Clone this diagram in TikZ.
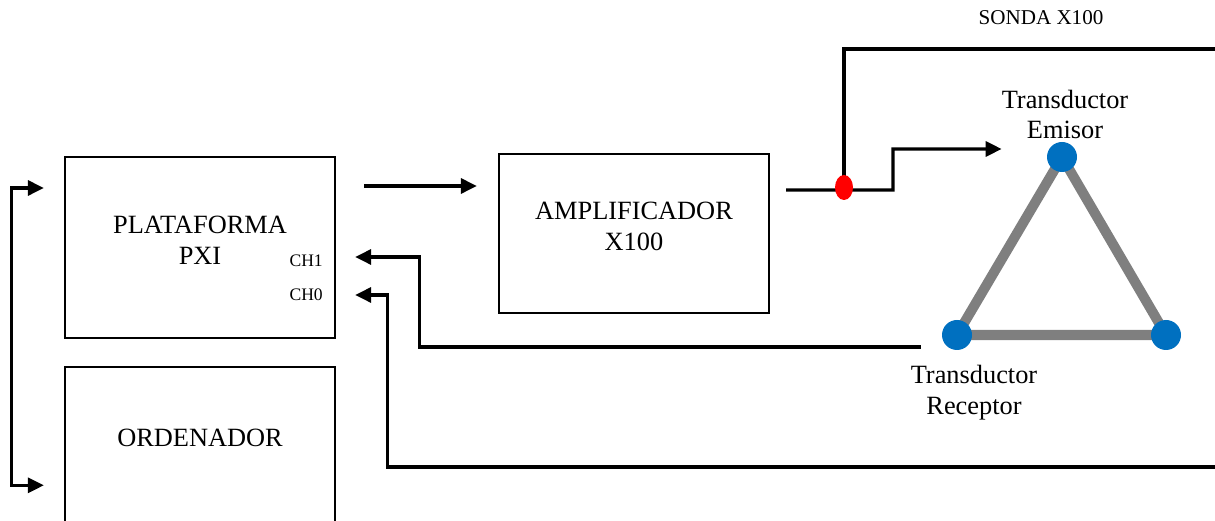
\documentclass[tikz,border=0pt]{standalone}
\usepackage{fontspec}
\setmainfont{Liberation Serif}
\usetikzlibrary{arrows.meta,positioning,shapes.geometric}
\definecolor{DotBlue}{HTML}{0070C0}
\definecolor{EdgeGray}{HTML}{7F7F7F}
\definecolor{ProbeRed}{HTML}{FF0000}

\begin{document}
\begin{tikzpicture}[
  every node/.style={font=\fontsize{15}{17.5}\selectfont},
  blk/.tip={Triangle[length=3.2mm,width=3mm]},
  box/.style={draw,line width=1.3pt,minimum width=5.4cm,minimum height=3.62cm,align=center,inner sep=0pt,text depth=0.28cm},
  arr/.style={-blk,line width=1.8pt},
  sensor/.style={circle,fill=DotBlue,minimum size=6mm,inner sep=0pt},
  chan/.style={font=\fontsize{10}{12}\selectfont}]
  \clip (0,0) rectangle (24.3,10.42);
  \node[box] (pxi) at (4,5.47) {PLATAFORMA\\PXI};
  \node[box,below=0.54cm of pxi] (ord) {};
  \node (ordtxt) at ([yshift=-1.44cm]ord.north) {ORDENADOR};
  \node[box,minimum height=3.18cm] (amp) at (12.68,5.75) {AMPLIFICADOR\\X100};
  \node[chan] (ch1) at ([xshift=-0.6cm,yshift=-0.27cm]pxi.east) {CH1};
  \node[chan] (ch0) at ([xshift=-0.6cm,yshift=-0.95cm]pxi.east) {CH0};
  % transductores
  \coordinate (em) at (21.24,7.28);
  \coordinate (rec) at (19.14,3.72);
  \coordinate (rr) at (23.32,3.72);
  \draw[EdgeGray,line width=5.7pt] (em) -- (rec) -- (rr) -- cycle;
  \node[sensor] (emdot) at (em) {};
  \node[sensor] (recdot) at (rec) {};
  \node[sensor] (rrdot) at (rr) {};
  \node[align=center] (emtxt) at ([xshift=0.06cm,yshift=0.85cm]em) {Transductor\\Emisor};
  \node[align=center] (rectxt) at ([xshift=0.34cm,yshift=-1.15cm]rec) {Transductor\\Receptor};
  % sonda
  \coordinate (pr) at (16.88,6.62);
  \coordinate (sondaout) at (24.6,9.44);
  \coordinate (sondaret) at (24.6,1.08);
  \node[font=\fontsize{12}{14}\selectfont] (sonda) at (20.82,10.06) {SONDA X100};
  \draw[arr] ([xshift=0.56cm,yshift=1.23cm]pxi.east) -- ([xshift=-0.42cm,yshift=0.95cm]amp.west);
  \draw[arr] ([xshift=0.32cm,yshift=0.87cm]amp.east) -- (pr) -- ++(0.98,0) |- ([xshift=-0.9cm,yshift=0.16cm]emdot.west);
  \draw[line width=1.8pt] (pr) |- (sondaout);
  \node[ellipse,fill=ProbeRed,minimum width=3.6mm,minimum height=5mm,inner sep=0pt] (probe) at ([yshift=0.05cm]pr) {};
  \draw[arr] ([xshift=-0.42cm,yshift=-0.24cm]recdot.west) -| ([xshift=1.66cm,yshift=-0.19cm]pxi.east) -- ([xshift=0.38cm,yshift=-0.19cm]pxi.east);
  \draw[arr] (sondaret) -| ([xshift=1.02cm,yshift=-0.95cm]pxi.east) -- ([xshift=0.38cm,yshift=-0.95cm]pxi.east);
  \draw[{blk}-{blk},line width=1.8pt] ([xshift=-0.4cm,yshift=1.19cm]pxi.west) -- ++(-0.64,0) |- ([xshift=-0.4cm,yshift=-0.55cm]ord.west);
\end{tikzpicture}
\end{document}
